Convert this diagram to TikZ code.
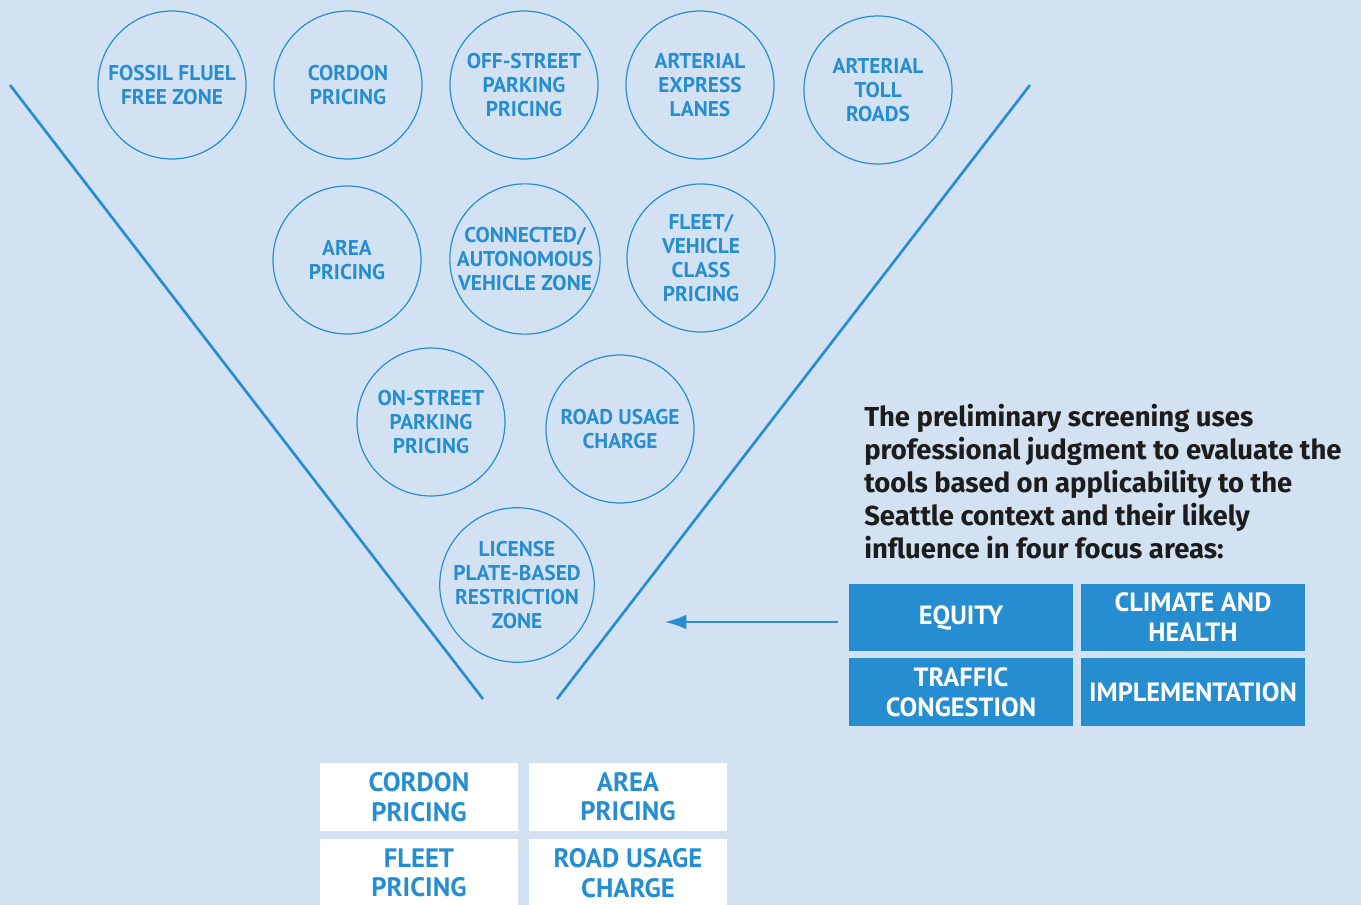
\documentclass[tikz,border=0pt]{standalone}
\usepackage{fontspec}
\setmainfont{PT Sans}
\newfontfamily\parafont{Fira Sans}
\usepackage{tikz}
\usetikzlibrary{arrows.meta}

\definecolor{bgblue}{RGB}{211,226,242}
\definecolor{toolblue}{RGB}{38,142,208}
\definecolor{textdark}{RGB}{28,28,28}

\begin{document}
\begin{tikzpicture}[x=0.75pt,y=0.75pt,yscale=-1,xscale=1,
  tool/.style={draw=toolblue,line width=0.9pt,circle,minimum size=111pt,inner sep=0pt,
    text=toolblue,align=center,font=\bfseries\fontsize{16}{18}\selectfont},
  area/.style={fill=toolblue,minimum width=168pt,minimum height=50.5pt,inner sep=0pt,
    text=white,align=center,font=\bfseries\fontsize{19.8}{22.5}\selectfont},
  pick/.style={fill=white,minimum width=148.5pt,minimum height=51pt,inner sep=0pt,
    text=toolblue,align=center,font=\bfseries\fontsize{20}{22}\selectfont},
  funnel/.style={draw=toolblue,line width=2pt}]
%set diagram size
\fill[bgblue] (0,0) rectangle (1361,905);
\useasboundingbox (0,0) rectangle (1361,905);

%Shape: funnel sides
\draw[funnel] (10,85) -- (483,699);
\draw[funnel] (1030,85) -- (557,699);

%Circles: row 1
\node[tool] (fossil) at (172,85) {FOSSIL FLUEL\\FREE ZONE};
\node[tool] (cordon) at (348,85) {CORDON\\PRICING};
\node[tool] (offstreet) at (524,85) {OFF-STREET\\PARKING\\PRICING};
\node[tool] (express) at (700,85) {ARTERIAL\\EXPRESS\\LANES};
\node[tool] (toll) at (878,90) {ARTERIAL\\TOLL\\ROADS};
%Circles: row 2
\node[tool] (areac) at (347,260) {AREA\\PRICING};
\node[tool] (connected) at (525,259) {CONNECTED/\\AUTONOMOUS\\VEHICLE ZONE};
\node[tool] (fleetc) at (701,258) {FLEET/\\VEHICLE\\CLASS\\PRICING};
%Circles: row 3
\node[tool] (onstreet) at (431,422) {ON-STREET\\PARKING\\PRICING};
\node[tool] (roadc) at (620,429) {ROAD USAGE\\CHARGE};
%Circles: row 4
\node[tool] (license) at (517,585) {LICENSE\\PLATE-BASED\\RESTRICTION\\ZONE};

% Text Node
\node[anchor=north west,inner sep=0pt,align=left,text=textdark,
  font=\parafont\bfseries\fontsize{20.6}{24.75}\selectfont] (screen) at (864,404)
  {The preliminary screening uses\\professional judgment to evaluate the\\tools based on applicability to the\\Seattle context and their likely\\influence in four focus areas:};

%Focus areas
\node[area] (equity) at (961,617.5) {EQUITY};
\node[area] (climate) at (1193,617.5) {CLIMATE AND\\HEALTH};
\node[area] (traffic) at (961,692) {TRAFFIC\\CONGESTION};
\node[area] (implement) at (1193,692) {IMPLEMENTATION};

\coordinate (tip) at (665,622);
\draw[toolblue,line width=1.6pt,-{Latex[length=16pt,width=11pt]}] (equity.west|-tip) ++(-11,0) coordinate (tail) (tail) -- (tip);

%Selected tools
\node[pick] (cordonb) at (419,797) {CORDON\\PRICING};
\node[pick] (areab) at (628,797) {AREA\\PRICING};
\node[pick] (fleetb) at (419,873) {FLEET\\PRICING};
\node[pick] (roadb) at (628,873) {ROAD USAGE\\CHARGE};

\end{tikzpicture}
\end{document}
